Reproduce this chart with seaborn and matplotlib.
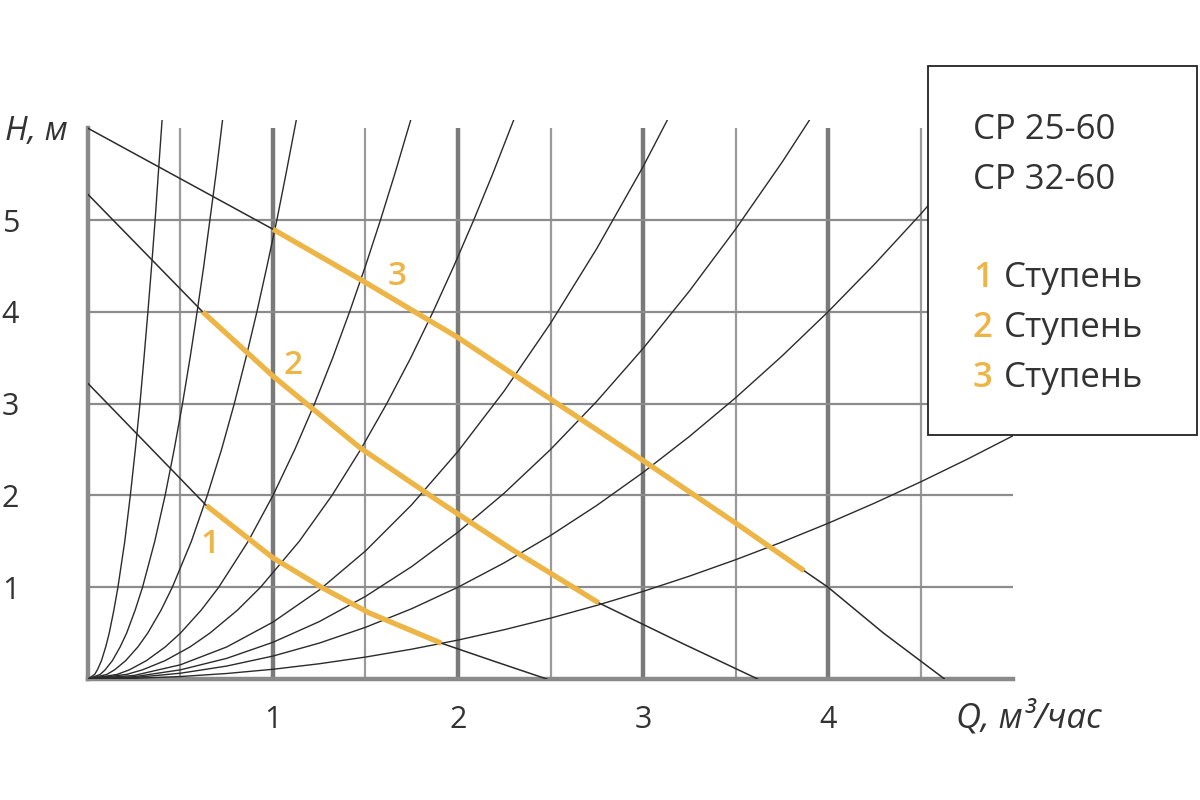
import matplotlib
matplotlib.use("Agg")
import matplotlib.pyplot as plt
from matplotlib.patches import Rectangle
import seaborn as sns

# pump curves (Q, m3/h ; H, m)
pump1_q = [0, 0.64, 1.0, 1.27, 1.52, 1.91, 2.2, 2.48]
pump1_h = [3.22, 1.89, 1.32, 0.99, 0.72, 0.39, 0.19, 0.0]
pump2_q = [0, 0.62, 1.0, 1.47, 1.9, 2.3, 2.76, 3.2, 3.62]
pump2_h = [5.28, 4.0, 3.3, 2.52, 1.93, 1.4, 0.83, 0.4, 0.0]
pump3_q = [0, 0.5, 1.0, 1.5, 2.0, 2.5, 3.0, 3.5, 3.87, 4.0, 4.3, 4.63]
pump3_h = [6.0, 5.45, 4.9, 4.32, 3.72, 3.05, 2.38, 1.7, 1.18, 1.0, 0.5, 0.0]

# working ranges of each speed (orange parts)
step1_q = [0.64, 1.0, 1.27, 1.52, 1.91]
step1_h = [1.89, 1.32, 0.99, 0.72, 0.39]
step2_q = [0.62, 1.0, 1.47, 1.9, 2.3, 2.76]
step2_h = [4.0, 3.3, 2.52, 1.93, 1.4, 0.83]
step3_q = [1.0, 1.5, 2.0, 2.5, 3.0, 3.5, 3.87]
step3_h = [4.9, 4.32, 3.72, 3.05, 2.38, 1.7, 1.18]

# steep system curves, read at fixed heads
steep_h = [0, 0.05, 0.1, 0.2, 0.35, 0.5, 0.75, 1, 1.5, 2, 2.5, 3, 3.5, 4, 4.5, 5, 5.5, 6.1]
sysA_q = [0, 0.036, 0.051, 0.073, 0.096, 0.115, 0.140, 0.162, 0.199, 0.229, 0.256, 0.281,
          0.303, 0.324, 0.344, 0.363, 0.380, 0.401]
sysB_q = [0, 0.066, 0.093, 0.132, 0.174, 0.209, 0.255, 0.295, 0.361, 0.417, 0.466, 0.511,
          0.552, 0.590, 0.626, 0.659, 0.692, 0.728]
sysC_q = [0, 0.102, 0.144, 0.204, 0.270, 0.323, 0.395, 0.456, 0.559, 0.645, 0.722, 0.791,
          0.854, 0.913, 0.968, 1.021, 1.070, 1.127]
sysD_q = [0, 0.158, 0.224, 0.316, 0.418, 0.5, 0.612, 0.707, 0.866, 1.0, 1.118, 1.225,
          1.323, 1.414, 1.5, 1.581, 1.658, 1.746]
sysE_q = [0, 0.209, 0.295, 0.417, 0.552, 0.659, 0.808, 0.933, 1.142, 1.319, 1.474, 1.615,
          1.745, 1.865, 1.978, 2.085, 2.187, 2.303]

# flat system curves, read at fixed flows
flat_q = [0, 0.25, 0.5, 0.75, 1, 1.25, 1.5, 1.75, 2, 2.25, 2.5, 2.75, 3, 3.25, 3.5, 3.75,
          4, 4.25, 4.5, 4.75, 5]
sysF_h = [0, 0.039, 0.155, 0.349, 0.62, 0.969, 1.395, 1.899, 2.48, 3.139, 3.875, 4.689,
          5.58, 6.549, 7.595, 8.719, 9.92, 11.199, 12.555, 13.989, 15.5]
sysG_h = [0, 0.025, 0.1, 0.225, 0.4, 0.625, 0.9, 1.225, 1.6, 2.025, 2.5, 3.025, 3.6,
          4.225, 4.9, 5.625, 6.4, 7.225, 8.1, 9.025, 10.0]
sysH_h = [0, 0.016, 0.063, 0.141, 0.25, 0.391, 0.563, 0.766, 1.0, 1.266, 1.563, 1.891,
          2.25, 2.641, 3.063, 3.516, 4.0, 4.516, 5.063, 5.641, 6.25]
sysI_h = [0, 0.007, 0.027, 0.06, 0.106, 0.166, 0.239, 0.325, 0.424, 0.537, 0.663, 0.802,
          0.954, 1.12, 1.299, 1.491, 1.696, 1.915, 2.147, 2.392, 2.65]

x_ticks = [1, 2, 3, 4]
y_ticks = [1, 2, 3, 4, 5]
models = ["CP 25-60", "CP 32-60"]
steps = ["1", "2", "3"]

ORANGE = "#EDB546"
LINE = "#2b2b2b"
GRID = "#8c8c8c"
TEXT = "#333333"

sns.set_theme(style="white")
plt.rcParams["font.family"] = ["Open Sans", "DejaVu Sans"]

fig = plt.figure(figsize=(12, 8), dpi=100)
fig.patch.set_facecolor("white")
ax = fig.add_axes([0.0733, 0.15125, 0.7709, 0.69875])
ax.set_xlim(0, 5)
ax.set_ylim(0, 6.09)

# grid
ax.vlines([0.5, 1.5, 2.5, 3.5, 4.5], 0, 6, color="#9a9a9a", lw=1.6, zorder=1)
ax.vlines(x_ticks, 0, 6, color="#7a7a7a", lw=3.2, zorder=1)
ax.hlines(y_ticks, 0, 5, color=GRID, lw=1.6, zorder=1)

for sp in ["top", "right"]:
    ax.spines[sp].set_visible(False)
ax.spines["left"].set_bounds(0, 6)
for sp in ["left", "bottom"]:
    ax.spines[sp].set_color("#8a8a8a")
    ax.spines[sp].set_linewidth(3.2)

# system curves
for q in [sysA_q, sysB_q, sysC_q, sysD_q, sysE_q]:
    sns.lineplot(x=q, y=steep_h, ax=ax, color=LINE, lw=1.0, sort=False,
                 estimator=None, zorder=3)
for h in [sysF_h, sysG_h, sysH_h, sysI_h]:
    sns.lineplot(x=flat_q, y=h, ax=ax, color=LINE, lw=1.0, sort=False,
                 estimator=None, zorder=3)

# pump curves
for q, h in [(pump1_q, pump1_h), (pump2_q, pump2_h), (pump3_q, pump3_h)]:
    sns.lineplot(x=q, y=h, ax=ax, color=LINE, lw=1.1, sort=False,
                 estimator=None, zorder=3)
for q, h in [(step1_q, step1_h), (step2_q, step2_h), (step3_q, step3_h)]:
    sns.lineplot(x=q, y=h, ax=ax, color=ORANGE, lw=3.8, sort=False,
                 estimator=None, zorder=4, solid_capstyle="butt")

ax.text(0.66, 1.46, "1", color=ORANGE, fontsize=24, fontweight="semibold",
        ha="center", va="center", zorder=5)
ax.text(1.11, 3.41, "2", color=ORANGE, fontsize=24, fontweight="semibold",
        ha="center", va="center", zorder=5)
ax.text(1.67, 4.39, "3", color=ORANGE, fontsize=24, fontweight="semibold",
        ha="center", va="center", zorder=5)

# ticks
ax.set_xticks(x_ticks)
ax.set_xticklabels([str(v) for v in x_ticks])
ax.set_yticks(y_ticks)
ax.set_yticklabels([str(v) for v in y_ticks])
ax.tick_params(axis="x", length=0, pad=19, labelsize=22, labelcolor=TEXT)
ax.tick_params(axis="y", length=0, pad=62, labelsize=22, labelcolor=TEXT)
for lab in ax.get_yticklabels():
    lab.set_horizontalalignment("left")
ax.set_xlabel("")
ax.set_ylabel("")

fig.text(0.004, 0.835, "H, м", fontsize=24, style="italic", color=TEXT,
         ha="left", va="center")
fig.text(0.797, 0.1025, "Q, м³/час", fontsize=25, style="italic", color=TEXT,
         ha="left", va="center")

# legend box
box = Rectangle((928 / 1200, 1 - 435 / 800), 269 / 1200, 369 / 800,
                transform=fig.transFigure, facecolor="white", edgecolor="#222222",
                lw=1.3, zorder=10)
fig.patches.append(box)
for i, m in enumerate(models):
    fig.text(973 / 1200, 1 - (130 + 50 * i) / 800, m, fontsize=25, color=TEXT,
             ha="left", va="center", zorder=11)
for i, s in enumerate(steps):
    y = 1 - (278 + 50 * i) / 800
    fig.text(973 / 1200, y, s, fontsize=25, color=ORANGE, fontweight="semibold",
             ha="left", va="center", zorder=11)
    fig.text(1004 / 1200, y, "Ступень", fontsize=25, color=TEXT, ha="left",
             va="center", zorder=11)

fig.savefig("out.png", dpi=100, facecolor="white")
